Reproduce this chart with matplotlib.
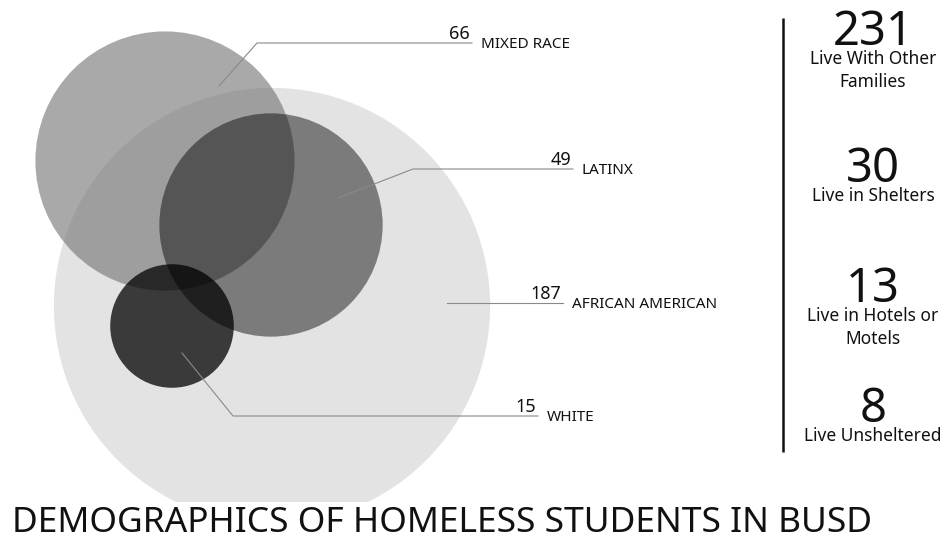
import matplotlib
matplotlib.use('Agg')
import matplotlib.pyplot as plt
from matplotlib.patches import Circle, Rectangle
import numpy as np

plt.rcParams['font.family'] = ['Noto Sans', 'DejaVu Sans']

# data
groups = ['MIXED RACE', 'LATINX', 'AFRICAN AMERICAN', 'WHITE']
group_counts = [66, 49, 187, 15]

housing_counts = [231, 30, 13, 8]
housing_labels = ['Live With Other\nFamilies', 'Live in Shelters',
                  'Live in Hotels or\nMotels', 'Live Unsheltered']

title = 'DEMOGRAPHICS OF HOMELESS STUDENTS IN BUSD'

# layout (pixels, y down)
centers = [(165, 161), (271, 225), (272, 306), (172, 326)]
fills = [(0.45, 0.61), (0.0, 0.46), (0.89, 1.0), (0.0, 0.745)]  # grey level, alpha
draw_order = [2, 0, 1, 3]
scale = 15.95  # px per sqrt(count)

# leader lines: start point, elbow point, end x
leaders = [((219, 86), (257, 43), 472),
           ((338, 198), (413, 169), 573),
           ((447, 303), (447, 303), 563),
           ((182, 353), (233, 416), 538)]

fig = plt.figure(figsize=(9.53, 5.37), dpi=100)
ax = fig.add_axes([0, 0, 1, 1])
ax.set_xlim(0, 953)
ax.set_ylim(537, 0)
ax.axis('off')

for i in draw_order:
    r = scale * np.sqrt(group_counts[i])
    g, a = fills[i]
    ax.add_patch(Circle(centers[i], r, facecolor=(g, g, g), alpha=a,
                        edgecolor='none', zorder=1 + draw_order.index(i)))

for i, ((x0, y0), (x1, y1), x2) in enumerate(leaders):
    ax.plot([x0, x1, x2], [y0, y1, y1], color='#8a8a8a', lw=0.8, zorder=10)
    ax.text(x2 - 2, y1 - 4, str(group_counts[i]), ha='right', va='baseline',
            fontsize=13, color='#111111', zorder=11)
    ax.text(x2 + 9, y1 + 5, groups[i], ha='left', va='baseline',
            fontsize=11, color='#111111', zorder=11)

# right panel
ax.plot([783, 783], [18, 452], color='#111111', lw=1.8, solid_capstyle='butt')
num_y = [45, 182, 302, 422]
for n, lab, y in zip(housing_counts, housing_labels, num_y):
    ax.text(873, y, str(n), ha='center', va='baseline', fontsize=34,
            color='#111111')
    ax.text(873, y + 5, lab, ha='center', va='top', fontsize=12.5,
            color='#111111', linespacing=1.35)

# white band behind the title hides the bottom of the big circle
ax.add_patch(Rectangle((0, 502), 953, 35, facecolor='white', edgecolor='none',
                       zorder=19))
ax.text(12, 532, title, ha='left', va='baseline', fontsize=25.5,
        color='#111111', zorder=20)

fig.savefig('out.png', dpi=100)
